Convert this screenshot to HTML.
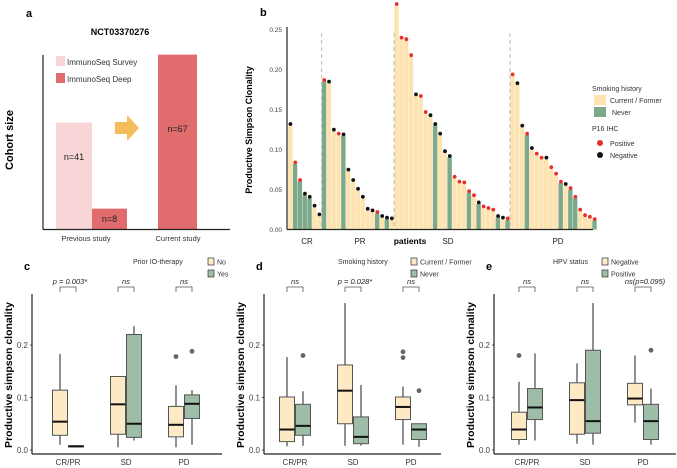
<!DOCTYPE html>
<html><head><meta charset="utf-8">
<style>
html,body{margin:0;padding:0;background:#fff;}
svg{display:block;font-family:"Liberation Sans",Arial,sans-serif;}
</style></head>
<body>
<svg id="fig" width="677" height="468" viewBox="0 0 677 468" xmlns="http://www.w3.org/2000/svg">
<!-- Panel a -->
<g>
  <text x="26" y="17" font-size="11" font-weight="bold">a</text>
  <text x="120" y="35" font-size="9" font-weight="bold" text-anchor="middle">NCT03370276</text>
  <text transform="translate(13,140) rotate(-90)" font-size="11" font-weight="bold" text-anchor="middle">Cohort size</text>
  <g id="aBars"></g>
  <line x1="43" y1="55" x2="43" y2="229.5" stroke="#222" stroke-width="1.2"/>
  <line x1="43" y1="229.5" x2="230" y2="229.5" stroke="#222" stroke-width="1.2"/>
  <rect x="56" y="56" width="9" height="10" fill="#F8D5D6"/>
  <text x="67" y="65" font-size="8" fill="#333">ImmunoSeq Survey</text>
  <rect x="56" y="73" width="9" height="10" fill="#E06C6E"/>
  <text x="67" y="82" font-size="8" fill="#333">ImmunoSeq Deep</text>
  <polygon points="115,122 127,122 127,115 139,128 127,141 127,134 115,134" fill="#F5BC5E"/>
  <text x="86" y="241" font-size="7.5" text-anchor="middle" fill="#333">Previous study</text>
  <text x="178" y="241" font-size="7.5" text-anchor="middle" fill="#333">Current study</text>
</g>
<!-- Panel b -->
<g>
  <text x="260" y="16" font-size="11" font-weight="bold">b</text>
  <text transform="translate(252,130) rotate(-90)" font-size="9" font-weight="bold" text-anchor="middle">Productive Simpson Clonality</text>
  <g id="bTicks"></g>
  <g id="bBars"></g>
  <line x1="287" y1="27" x2="287" y2="229.5" stroke="#222" stroke-width="1.2"/>
  <line x1="287" y1="229.5" x2="593" y2="229.5" stroke="#222" stroke-width="1.2"/>
  <g id="bGroupLabels"></g>
  <text x="410" y="244" font-size="8.5" font-weight="bold" text-anchor="middle">patients</text>
  <text x="592" y="91" font-size="7" fill="#333">Smoking history</text>
  <rect x="594" y="95" width="12" height="10" fill="#FDE3B0"/>
  <text x="610" y="103" font-size="7" fill="#333">Current / Former</text>
  <rect x="594" y="107" width="12" height="10" fill="#7BA98A"/>
  <text x="612" y="115" font-size="7" fill="#333">Never</text>
  <text x="592" y="131" font-size="7" fill="#333">P16 IHC</text>
  <circle cx="600" cy="143" r="3" fill="#E8302A"/>
  <text x="610" y="146" font-size="7" fill="#333">Positive</text>
  <circle cx="600" cy="155" r="3" fill="#111"/>
  <text x="610" y="158" font-size="7" fill="#333">Negative</text>
</g>
<g id="boxes"></g>
</svg>
<script>
const NS="http://www.w3.org/2000/svg";
function mk(tag,attrs,parent){const e=document.createElementNS(NS,tag);for(const k in attrs)e.setAttribute(k,attrs[k]);parent.appendChild(e);return e;}

// ---- Panel a data ----
const aCategories=["Previous study","Previous study","Current study"];
const aKinds=["survey","deep","deep"];
const aValues=[41,8,67];
const aLabels=["n=41","n=8","n=67"];
(function(){
  const g=document.getElementById('aBars');
  const y=v=>229.5-v*2.61;
  const xs=[56,92,158], ws=[36,35,39];
  const labelY=[160,222,132];
  aValues.forEach((v,i)=>{
    const r=mk('rect',{x:xs[i],y:y(v),width:ws[i],height:229.5-y(v),fill:aKinds[i]==="survey"?"#F8D5D6":"#E06C6E"},g);
    
    
    const t=mk('text',{x:xs[i]+ws[i]/2,y:labelY[i],"font-size":"9","text-anchor":"middle",fill:"#222"},g);
    t.textContent=aLabels[i];
    
    
  });
})();

// ---- Panel b data ----
const bGroups=["CR","PR","SD","PD"];
const bGroupSizes=[7,15,24,18];
const bValues=[0.130,0.082,0.060,0.043,0.039,0.028,0.017,
 0.185,0.183,0.123,0.118,0.117,0.073,0.060,0.049,0.039,0.024,0.022,0.020,0.015,0.013,0.012,
 0.280,0.238,0.236,0.216,0.167,0.165,0.145,0.141,0.130,0.118,0.096,0.090,0.064,0.058,0.057,0.046,0.041,0.032,0.027,0.025,0.023,0.015,0.013,0.012,
 0.192,0.181,0.128,0.118,0.100,0.093,0.088,0.088,0.076,0.068,0.058,0.055,0.050,0.039,0.023,0.016,0.014,0.011];
const bSmoking="CNNNNCC"+"NCCCNCCCCCCNCNC"+"CCCCCCCCNCCNCCCNCNCCCNCN"+"CCCNCCCCCCNCNNCCCN";
const bP16="NPPNNNN"+"PNNPNNNNNNNPNNN"+"PPPPNPPNNNNNPPPPPNPPPNNP"+"PNNPNPPNPPPNPPPPPP";
const bTickVals=[0,0.05,0.10,0.15,0.20,0.25];
const bTickLabels=["0.00","0.05","0.10","0.15","0.20","0.25"];
(function(){
  const yb=v=>229.5-v*800;
  const x0=288, pitch=4.83;
  const xb=i=>x0+i*pitch;
  const tg=document.getElementById('bTicks');
  bTickVals.forEach((v,i)=>{
    const t=mk('text',{x:282,y:yb(v)+2.5,"font-size":"6.5","text-anchor":"end",fill:"#444"},tg);
    t.textContent=bTickLabels[i];
    
    
  });
  const g=document.getElementById('bBars');
  bValues.forEach((v,i)=>{
    const r=mk('rect',{x:xb(i),y:yb(v),width:pitch-0.4,height:229.5-yb(v),fill:bSmoking[i]==="C"?"#FDE3B0":"#7BA98A"},g);
    
    
  });
  bValues.forEach((v,i)=>{
    const c=mk('circle',{cx:xb(i)+pitch/2,cy:yb(v)-1.5,r:1.9,fill:bP16[i]==="P"?"#E8302A":"#111"},g);
    
    
  });
  const lg=document.getElementById('bGroupLabels');
  let start=0;
  bGroups.forEach((name,gi)=>{
    const n=bGroupSizes[gi];
    if(gi>0){
      const l=mk('line',{x1:xb(start)-0.2,y1:33,x2:xb(start)-0.2,y2:229,stroke:"#bbb","stroke-width":1,"stroke-dasharray":"4,3"},g);
      
      
    }
    const cx=gi===0?307:gi===1?360:gi===2?448:558;
    const t=mk('text',{x:cx,y:244,"font-size":"8","text-anchor":"middle",fill:"#222"},lg);
    t.textContent=name;
    
    
    start+=n;
  });
})();

// ---- Boxplot panels ----
const boxCategories=["CR/PR","SD","PD"];
// [whiskerLow, q1, median, q3, whiskerHigh]
const cNo=[[0.010,0.028,0.054,0.114,0.183],[0.005,0.030,0.087,0.140,0.140],[0.005,0.025,0.048,0.083,0.123]];
const cYes=[[0.005,0.006,0.007,0.008,0.008],[0.018,0.024,0.050,0.220,0.236],[0.010,0.060,0.088,0.105,0.114]];
const cOutNo=[[],[],[0.178]];
const cOutYes=[[],[],[0.188]];
const dCur=[[0.007,0.016,0.039,0.101,0.177],[0.008,0.050,0.113,0.162,0.280],[0.010,0.058,0.082,0.101,0.121]];
const dNever=[[0.008,0.028,0.046,0.087,0.112],[0.008,0.012,0.025,0.063,0.124],[0.006,0.020,0.039,0.050,0.050]];
const dOutCur=[[],[],[0.187,0.176]];
const dOutNever=[[0.180],[],[0.113]];
const eNeg=[[0.010,0.020,0.039,0.072,0.130],[0.012,0.030,0.095,0.128,0.165],[0.052,0.086,0.098,0.127,0.180]];
const ePos=[[0.018,0.058,0.081,0.117,0.184],[0.010,0.032,0.055,0.190,0.280],[0.010,0.020,0.055,0.087,0.117]];
const eOutNeg=[[0.180],[],[]];
const eOutPos=[[],[],[0.190]];
const boxTickVals=[0,0.1,0.2];
const boxTickLabels=["0.0","0.1","0.2"];
const panels=[
 {id:"c",ax:32,end:222,catOff:36,A:cNo,B:cYes,oA:cOutNo,oB:cOutYes,sig:["p = 0.003*","ns","ns"],legTitle:"Prior IO-therapy",legX:133,keyX:208,keys:["No","Yes"]},
 {id:"d",ax:264,end:441,catOff:31,A:dCur,B:dNever,oA:dOutCur,oB:dOutNever,sig:["ns","p = 0.028*","ns"],legTitle:"Smoking history",legX:338,keyX:411,keys:["Current / Former","Never"]},
 {id:"e",ax:494,end:676,catOff:33,A:eNeg,B:ePos,oA:eOutNeg,oB:eOutPos,sig:["ns","ns","ns(p=0.095)"],legTitle:"HPV status",legX:553,keyX:602,keys:["Negative","Positive"]}
];
(function(){
  const root=document.getElementById('boxes');
  const y=v=>450-v*525;
  panels.forEach(p=>{
    const g=mk('g',{},root);
    
    
    const L=mk('text',{x:p.ax-8,y:270,"font-size":"11","font-weight":"bold"},g);L.textContent=p.id;
    
    
    const yt=mk('text',{transform:`translate(${p.ax-20},375) rotate(-90)`,"font-size":"10.5","font-weight":"bold","text-anchor":"middle"},g);
    yt.textContent="Productive simpson clonality";
    
    
    boxTickVals.forEach((v,i)=>{
      const t=mk('text',{x:p.ax-4,y:y(v)+3,"font-size":"8","text-anchor":"end",fill:"#444"},g);
      t.textContent=boxTickLabels[i];
      
      
      mk('line',{x1:p.ax-2,y1:y(v),x2:p.ax,y2:y(v),stroke:"#333","stroke-width":0.8},g);
    });
    const ya=mk('line',{x1:p.ax,y1:294,x2:p.ax,y2:454,stroke:"#222","stroke-width":1.2},g);
    
    
    const xa=mk('line',{x1:p.ax,y1:454,x2:p.end,y2:454,stroke:"#222","stroke-width":1.2},g);
    
    
    const lt=mk('text',{x:p.legX,y:264,"font-size":"7",fill:"#333"},g);lt.textContent=p.legTitle;
    
    
    p.keys.forEach((k,ki)=>{
      const ky=258+ki*12;
      const sw=mk('rect',{x:p.keyX,y:ky,width:6,height:7,fill:ki?"#9DBDA6":"#FDE9C4",stroke:"#333","stroke-width":0.7},g);
      
      
      const kt=mk('text',{x:p.keyX+9,y:ky+6.5,"font-size":"7",fill:"#333"},g);kt.textContent=k;
      
      
    });
    boxCategories.forEach((cat,ci)=>{
      const cx=p.ax+p.catOff+ci*58;
      const xl=mk('text',{x:cx,y:465,"font-size":"8","text-anchor":"middle",fill:"#333"},g);xl.textContent=cat;
      
      
      // bracket
      const br=mk('path',{d:`M${cx-8},292 L${cx-8},287 L${cx+8},287 L${cx+8},292`,fill:"none",stroke:"#555","stroke-width":0.8},g);
      
      
      const st=mk('text',{x:cx+(p.sig[ci].length>6?2:0),y:284,"font-size":"7.5","font-style":"italic","text-anchor":"middle",fill:"#222"},g);
      st.textContent=p.sig[ci];
      
      
      [[p.A,p.oA,"#FDE9C4",-8],[p.B,p.oB,"#9DBDA6",8]].forEach(([arr,outs,fill,off],si)=>{
        const s=arr[ci], bx=cx+off, w=15;
        const wl=mk('line',{x1:bx,y1:y(s[0]),x2:bx,y2:y(s[4]),stroke:"#222","stroke-width":1},g);
        
        
        const b=mk('rect',{x:bx-w/2,y:y(s[3]),width:w,height:Math.max(0.5,y(s[1])-y(s[3])),fill:fill,stroke:"#555","stroke-width":1},g);
        
        
        const m=mk('line',{x1:bx-w/2,y1:y(s[2]),x2:bx+w/2,y2:y(s[2]),stroke:"#111","stroke-width":2},g);
        
        
        outs[ci].forEach((o,oi)=>{
          const c=mk('circle',{cx:bx,cy:y(o),r:2.4,fill:"#666"},g);
          
          
        });
      });
    });
  });
})();
</script>
</body></html>
